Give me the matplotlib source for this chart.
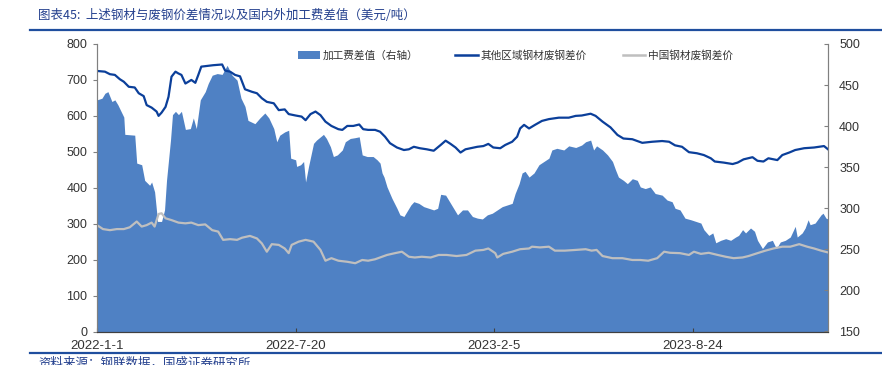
import matplotlib
matplotlib.use("Agg")
import matplotlib.pyplot as plt
import matplotlib.lines as mlines
import matplotlib.patches as mpatches
import pandas as pd

# days since 2022-01-01 and values
other_days = [0, 8, 13, 18, 23, 27, 32, 38, 42, 47, 50, 55, 60, 62, 65, 69, 72, 75, 79, 82,
              85, 89, 92, 95, 99, 102, 105, 111, 117, 126, 129, 134, 139, 144, 149, 156, 161, 166, 171, 178,
              183, 189, 193, 200, 206, 210, 215, 220, 225, 230, 236, 243, 247, 252, 258, 264, 268, 273, 280, 285,
              290, 295, 302, 309, 314, 319, 325, 332, 339, 346, 351, 356, 361, 366, 371, 376, 383, 389, 394, 399,
              406, 411, 418, 423, 426, 430, 435, 441, 448, 455, 465, 475, 482, 488, 497, 502, 509, 517, 524, 530,
              539, 549, 559, 569, 576, 582, 589, 596, 604, 611, 618, 622, 631, 640, 645, 651, 660, 665, 671, 676,
              685, 690, 697, 703, 712, 722, 732, 736]
other_vals = [725, 723, 716, 714, 702, 695, 681, 679, 663, 655, 630, 623, 612, 600, 609, 625, 653, 709, 723, 718,
              714, 690, 695, 700, 692, 714, 737, 739, 741, 743, 726, 723, 714, 710, 674, 667, 663, 649, 639, 635,
              616, 618, 605, 601, 598, 588, 605, 612, 602, 584, 572, 563, 561, 572, 572, 576, 563, 561, 561, 556,
              542, 524, 512, 505, 507, 514, 510, 507, 503, 519, 531, 522, 512, 498, 507, 510, 514, 516, 522, 512,
              510, 519, 528, 542, 565, 575, 565, 575, 586, 591, 595, 595, 600, 601, 606, 600, 584, 568, 547, 537,
              535, 525, 528, 530, 528, 518, 514, 499, 496, 491, 482, 473, 470, 466, 470, 479, 485, 475, 473, 482,
              477, 491, 498, 505, 510, 512, 516, 507]

china_days = [0, 6, 13, 20, 27, 33, 40, 45, 50, 55, 58, 62, 65, 69, 75, 82, 89, 95, 102, 109,
              116, 122, 127, 134, 141, 146, 154, 161, 166, 171, 176, 183, 189, 193, 196, 203, 210, 218, 225, 230,
              236, 243, 252, 260, 267, 273, 280, 287, 292, 300, 307, 314, 320, 327, 336, 344, 352, 362, 372, 381,
              389, 394, 401, 403, 409, 418, 426, 435, 438, 446, 455, 461, 471, 482, 492, 498, 503, 509, 519, 529,
              539, 547, 555, 564, 571, 577, 587, 596, 601, 608, 616, 625, 633, 641, 650, 656, 665, 673, 681, 690,
              698, 707, 715, 722, 729, 736]
china_vals = [296, 285, 282, 285, 285, 290, 306, 292, 296, 303, 292, 327, 329, 315, 310, 303, 301, 303, 296, 298,
              282, 278, 255, 257, 255, 261, 266, 259, 245, 222, 243, 241, 231, 218, 241, 250, 255, 250, 227, 197,
              204, 197, 194, 190, 199, 197, 201, 208, 213, 218, 222, 208, 206, 208, 206, 213, 213, 210, 213, 225,
              227, 231, 218, 206, 216, 222, 229, 231, 236, 234, 236, 225, 225, 227, 229, 225, 227, 210, 204, 204,
              199, 199, 197, 204, 222, 219, 218, 213, 222, 216, 219, 213, 208, 204, 206, 210, 218, 225, 231, 236,
              236, 243, 236, 231, 225, 220]

fee_days = [0, 5, 8, 11, 15, 18, 21, 27, 28, 38, 40, 45, 48, 53, 55, 58, 61, 65, 68, 70,
            74, 76, 79, 82, 85, 89, 94, 97, 100, 104, 109, 112, 116, 121, 126, 131, 136, 141, 145, 149,
            152, 159, 164, 169, 173, 178, 181, 184, 189, 193, 195, 200, 201, 205, 208, 210, 213, 218, 221, 225,
            228, 231, 235, 238, 242, 247, 250, 255, 260, 264, 267, 272, 278, 282, 285, 287, 289, 292, 297, 302,
            305, 309, 313, 316, 319, 324, 329, 334, 339, 343, 346, 351, 354, 358, 363, 368, 373, 378, 383, 388,
            393, 398, 403, 408, 413, 418, 421, 425, 428, 431, 435, 440, 445, 450, 455, 458, 463, 470, 475, 482,
            488, 492, 497, 500, 503, 509, 514, 519, 522, 525, 530, 534, 539, 544, 547, 552, 557, 562, 569, 574,
            579, 582, 587, 592, 598, 603, 608, 611, 616, 620, 623, 628, 633, 638, 643, 646, 650, 653, 658, 662,
            665, 670, 675, 680, 684, 688, 693, 698, 703, 705, 710, 713, 716, 718, 723, 729, 731, 734, 736]
fee_vals = [432, 434, 440, 442, 430, 432, 426, 411, 390, 389, 355, 353, 334, 328, 332, 320, 284, 284, 298, 334,
            383, 414, 418, 414, 418, 396, 397, 410, 397, 432, 442, 452, 462, 464, 463, 474, 462, 456, 434, 424,
            407, 403, 410, 416, 410, 397, 381, 389, 393, 395, 361, 359, 351, 353, 357, 332, 351, 379, 383, 387,
            390, 385, 375, 363, 365, 371, 381, 385, 386, 387, 365, 363, 363, 359, 355, 343, 338, 326, 312, 300,
            292, 290, 298, 304, 308, 306, 302, 300, 298, 300, 317, 316, 310, 302, 292, 298, 298, 290, 288, 287,
            292, 294, 298, 302, 304, 306, 318, 330, 343, 345, 338, 343, 353, 357, 361, 371, 373, 371, 376, 374,
            377, 381, 383, 371, 376, 371, 365, 357, 347, 338, 334, 330, 336, 334, 326, 324, 326, 318, 316, 310,
            308, 300, 298, 288, 286, 284, 282, 274, 267, 270, 258, 261, 263, 261, 265, 267, 274, 270, 276, 272,
            261, 251, 259, 261, 251, 259, 261, 265, 278, 265, 270, 276, 286, 280, 282, 292, 294, 288, 287]

x_tick_days = [0, 200, 400, 600]
x_tick_labels = ["2022-1-1", "2022-7-20", "2023-2-5", "2023-8-24"]
left_ticks = [0, 100, 200, 300, 400, 500, 600, 700, 800]
right_ticks = [150, 200, 250, 300, 350, 400, 450, 500]

start = pd.Timestamp("2022-01-01")
def to_dates(days):
    return start + pd.to_timedelta(days, unit="D")

CJK = ["Noto Sans CJK SC", "DejaVu Sans"]
NUM = ["Liberation Sans", "DejaVu Sans"]
NARROW = ["Liberation Sans Narrow", "Liberation Sans", "DejaVu Sans"]

AREA_C = "#4F81C4"
BLUE_C = "#0B3F9A"
GRAY_C = "#BFBFBF"

fig = plt.figure(figsize=(8.82, 3.65), dpi=100)
ax = fig.add_axes([97 / 882, 1 - 331.5 / 365, 731 / 882, 287.5 / 365])
ax2 = ax.twinx()

# processing fee gap on right axis as filled area
ax2.fill_between(to_dates(fee_days), fee_vals, 150, color=AREA_C, lw=0)
ax2.set_ylim(150, 500)
ax2.set_yticks(right_ticks)

# spreads on left axis
ax.plot(to_dates(other_days), other_vals, color=BLUE_C, lw=1.6)
ax.plot(to_dates(china_days), china_vals, color=GRAY_C, lw=1.6)
ax.set_ylim(0, 800)
ax.set_yticks(left_ticks)
ax.set_zorder(ax2.get_zorder() + 1)
ax.patch.set_visible(False)

ax.set_xlim(start, start + pd.Timedelta(days=736))
ax.set_xticks(to_dates(x_tick_days))
ax.set_xticklabels(x_tick_labels)

for a in (ax, ax2):
    a.spines["top"].set_visible(False)
    a.spines["left"].set_color("#808080")
    a.spines["right"].set_color("#808080")
    a.spines["bottom"].set_color("#404040")
ax.tick_params(axis="y", direction="out", length=3, color="#808080", pad=4)
ax2.tick_params(axis="y", direction="in", length=3, color="#808080", pad=8)
ax.tick_params(axis="x", direction="in", length=3, color="#404040", pad=6)
for lab in ax.get_yticklabels() + ax2.get_yticklabels():
    lab.set_fontfamily(NUM)
    lab.set_fontsize(9)
    lab.set_color("#333333")
for lab in ax.get_xticklabels():
    lab.set_fontfamily(NARROW)
    lab.set_fontsize(9.5)
    lab.set_color("#333333")

handles = [mpatches.Patch(color=AREA_C, lw=0),
           mlines.Line2D([], [], color=BLUE_C, lw=1.8),
           mlines.Line2D([], [], color=GRAY_C, lw=1.8)]
labels = ["加工费差值（右轴）", "其他区域钢材废钢差价", "中国钢材废钢差价"]
leg = ax.legend(handles, labels, ncol=3, loc="center left",
                bbox_to_anchor=(298 / 882, 1 - 55.5 / 365), bbox_transform=fig.transFigure,
                frameon=False, borderpad=0, borderaxespad=0, handlelength=2.1,
                handleheight=0.7, handletextpad=0.25, columnspacing=3.4,
                prop={"family": CJK, "size": 7.7})
for t in leg.get_texts():
    t.set_color("#333333")

# header and footer
fig.text(38 / 882, 1 - 15 / 365, "图表45:  上述钢材与废钢价差情况以及国内外加工费差值（美元/吨）",
         family=CJK, fontsize=9, color="#24408E", va="center", ha="left", style="italic")
fig.add_artist(mlines.Line2D([30 / 882, 1], [1 - 30 / 365, 1 - 30 / 365], color="#1F4E9E", lw=1.6))
fig.add_artist(mlines.Line2D([30 / 882, 1], [1 - 353 / 365, 1 - 353 / 365], color="#1F4E9E", lw=1.6))
fig.text(38 / 882, 1 - 357 / 365, "资料来源：钢联数据，国盛证券研究所",
         family=CJK, fontsize=9, color="#24408E", va="top", ha="left")

fig.savefig("out.png", dpi=100)
